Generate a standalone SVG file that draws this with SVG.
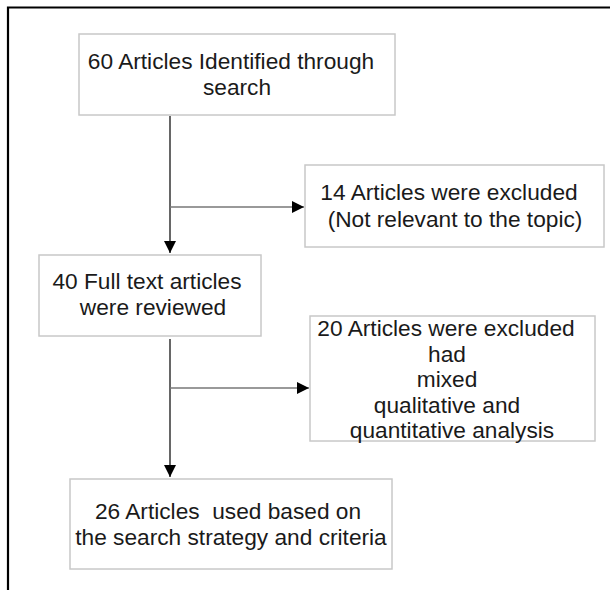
<svg xmlns="http://www.w3.org/2000/svg" width="610" height="590" viewBox="0 0 610 590">
<defs>
<marker id="ah" viewBox="0 0 12 12" refX="12" refY="6" markerWidth="12" markerHeight="12" markerUnits="userSpaceOnUse" orient="auto">
<path d="M0,0 L12,6 L0,12 z" fill="#000"/>
</marker>
<style>
.box{fill:#fff;stroke:#c8c8c8;stroke-width:1.5}
.t{font-family:"Liberation Sans",Arial,sans-serif;font-size:22.7px;fill:#1a1a1a;text-anchor:middle}
.c{fill:none;stroke:#000;stroke-width:1.2}
.b{fill:none;stroke:#777;stroke-width:1.5}
</style>
</defs>
<rect width="610" height="590" fill="#fff"/>
<path d="M8,590 V7.5 H610" fill="none" stroke="#000" stroke-width="2.2"/>
<g id="connectors">
<path class="c" d="M170,116 V253" marker-end="url(#ah)"/>
<path class="b" d="M170,207 H304" marker-end="url(#ah)"/>
<path class="c" d="M170,339 V477" marker-end="url(#ah)"/>
<path class="b" d="M170,388 H309" marker-end="url(#ah)"/>
</g>
<g id="n1">
<rect class="box" x="79" y="34" width="316" height="81"/>
<text class="t" x="231" y="69">60 Articles Identified through</text>
<text class="t" x="237" y="95">search</text>
</g>
<g id="n2">
<rect class="box" x="305" y="165" width="299" height="82"/>
<text class="t" x="449" y="200">14 Articles were excluded</text>
<text class="t" x="455" y="227">(Not relevant to the topic)</text>
</g>
<g id="n3">
<rect class="box" x="39" y="255" width="222" height="81"/>
<text class="t" x="147" y="289">40 Full text articles</text>
<text class="t" x="153" y="315">were reviewed</text>
</g>
<g id="n4">
<rect class="box" x="310" y="316" width="285" height="125"/>
<text class="t" x="446" y="336">20 Articles were excluded</text>
<text class="t" x="447" y="362">had</text>
<text class="t" x="447" y="387">mixed</text>
<text class="t" x="447" y="413">qualitative and</text>
<text class="t" x="452" y="438">quantitative analysis</text>
</g>
<g id="n5">
<rect class="box" x="70" y="479" width="322" height="90"/>
<text class="t" x="228" y="519" xml:space="preserve">26 Articles  used based on</text>
<text class="t" x="231" y="545">the search strategy and criteria</text>
</g>
</svg>
